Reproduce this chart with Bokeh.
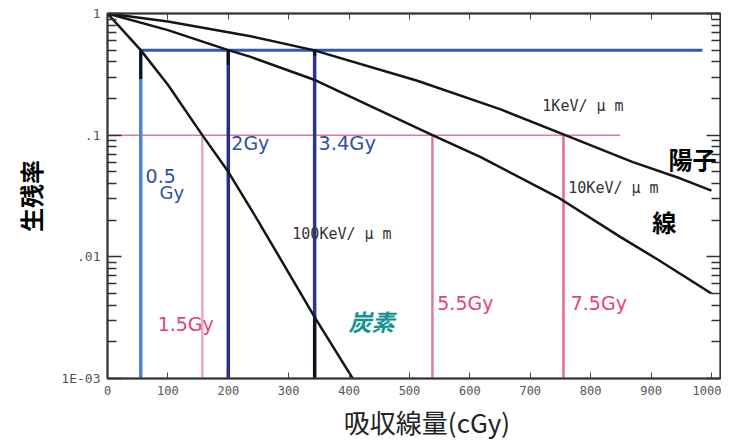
import math
from bokeh.plotting import figure
from bokeh.models import Range1d, LogAxis, LinearAxis, FixedTicker, Label
from bokeh.embed import file_html
from bokeh.resources import INLINE

# ---------------- data ----------------
dose_1kev = [0, 100, 237, 341, 513, 651, 758, 870, 949, 1000]
surv_1kev = [1.0, 0.86, 0.65, 0.5, 0.28, 0.163, 0.1, 0.06, 0.044, 0.035]

dose_10kev = [0, 100, 200, 237, 341, 538, 618, 745, 849, 911, 1000]
surv_10kev = [1.0, 0.73, 0.5, 0.44, 0.287, 0.1, 0.066, 0.031, 0.0146, 0.0095, 0.005]

dose_100kev = [0, 55, 100, 157, 200, 250, 343, 406]
surv_100kev = [1.0, 0.5, 0.26, 0.1, 0.05, 0.0195, 0.0032, 0.001]

# dose reference lines (cGy) and survival levels
blue_doses = [55, 200, 343]          # 0.5Gy, 2Gy, 3.4Gy  (S = 0.5)
blue_colors = ["#4a86d0", "#26307e", "#2a3590"]
blue_level = 0.5
blue_h_end = 985
pink_doses = [157, 538, 755]         # 1.5Gy, 5.5Gy, 7.5Gy (S = 0.1)
pink_colors = ["#eca6bf", "#e27a9c", "#e06a92"]
pink_level = 0.1
pink_h_end = 849

# black marks drawn over the dose lines in the original
black_x = [55, 200, 343, 343]
black_top = [0.5, 0.5, 0.5, 0.0032]
black_bottom = [0.29, 0.38, 0.45, 0.001]

x_ticks = [0, 100, 200, 300, 400, 500, 600, 700, 800, 900, 1000]
y_ticks = [0.001, 0.01, 0.1, 1]
y_tick_labels = ["1E-03", ".01", ".1", "1"]

x_title = "\u3000吸収線量(cGy)"
y_title = "生残率"

x_min, x_max = 0, 1015
y_min, y_max = 0.001, 1

cjk = "Noto Sans CJK JP"

# ---------------- figure ----------------
p = figure(width=721, height=442, x_range=Range1d(x_min, x_max),
           y_range=Range1d(y_min, y_max), y_axis_type="log",
           output_backend="svg", toolbar_location=None,
           min_border_left=107, min_border_right=1, min_border_top=13,
           min_border_bottom=58)
p.xgrid.visible = False
p.ygrid.visible = False
p.outline_line_color = "#333333"
p.outline_line_width = 1.5
p.background_fill_color = "white"
p.border_fill_color = "white"

minor = [m * 10.0 ** d for d in (-3, -2, -1) for m in range(2, 10)]

xa = p.xaxis[0]
xa.ticker = FixedTicker(ticks=x_ticks)
xa.major_tick_in = 6
xa.major_tick_out = 0
xa.minor_tick_line_color = None
xa.axis_line_width = 2
xa.axis_line_color = "#333333"
xa.major_tick_line_color = "#444444"
xa.major_label_text_font = "DejaVu Sans Mono"
xa.major_label_text_font_size = "12px"
xa.major_label_text_color = "#555555"
xa.major_label_standoff = 7
xa.axis_label = x_title
xa.axis_label_text_font = cjk
xa.axis_label_text_font_size = "26px"
xa.axis_label_text_font_style = "normal"
xa.axis_label_text_color = "#222222"
xa.axis_label_standoff = 5

ya = p.yaxis[0]
ya.ticker = FixedTicker(ticks=y_ticks, minor_ticks=minor)
ya.major_label_overrides = {v: s for v, s in zip(y_ticks, y_tick_labels)}
ya.major_tick_in = 14
ya.major_tick_out = 0
ya.minor_tick_in = 9
ya.minor_tick_out = 0
ya.axis_line_width = 2
ya.axis_line_color = "#333333"
ya.major_tick_line_color = "#333333"
ya.minor_tick_line_color = "#333333"
ya.major_tick_line_width = 1.5
ya.minor_tick_line_width = 1.5
ya.major_label_text_font = "DejaVu Sans Mono"
ya.major_label_text_font_size = "13px"
ya.major_label_text_color = "#555555"
ya.major_label_standoff = 7
ya.axis_label = y_title
ya.axis_label_text_font = cjk
ya.axis_label_text_font_size = "24px"
ya.axis_label_text_font_style = "bold"
ya.axis_label_text_color = "#000000"
ya.axis_label_standoff = 10

ra = LogAxis(ticker=FixedTicker(ticks=y_ticks, minor_ticks=minor),
             major_label_text_font_size="1px", major_label_text_color=None,
             major_label_standoff=0,
             major_tick_in=14, major_tick_out=0, minor_tick_in=9, minor_tick_out=0,
             axis_line_width=2, axis_line_color="#333333",
             major_tick_line_color="#333333", minor_tick_line_color="#333333",
             major_tick_line_width=1.5, minor_tick_line_width=1.5)
p.add_layout(ra, "right")

ta = LinearAxis(ticker=FixedTicker(ticks=x_ticks),
                major_label_text_font_size="1px", major_label_text_color=None,
                major_label_standoff=0,
                major_tick_in=6, major_tick_out=0, minor_tick_line_color=None,
                axis_line_width=2, axis_line_color="#333333",
                major_tick_line_color="#444444")
p.add_layout(ta, "above")

# ---------------- reference lines ----------------
p.segment(x0=[blue_doses[0]], y0=[blue_level], x1=[blue_h_end], y1=[blue_level],
          line_color="#2f58b8", line_width=3)
p.segment(x0=[x_min], y0=[pink_level], x1=[pink_h_end], y1=[pink_level],
          line_color="#e27aa0", line_width=1.5)
p.segment(x0=blue_doses, y0=[y_min] * len(blue_doses), x1=blue_doses,
          y1=[blue_level] * len(blue_doses), line_color=blue_colors, line_width=3.5)
p.segment(x0=pink_doses, y0=[y_min] * len(pink_doses), x1=pink_doses,
          y1=[pink_level] * len(pink_doses), line_color=pink_colors, line_width=2.5)
p.segment(x0=black_x, y0=black_bottom, x1=black_x, y1=black_top,
          line_color="#111111", line_width=3)

# ---------------- survival curves ----------------
for xs, ys in ((dose_1kev, surv_1kev), (dose_10kev, surv_10kev), (dose_100kev, surv_100kev)):
    p.line(xs, ys, line_color="#151515", line_width=2.5, line_join="round")

# ---------------- annotations ----------------
def lab(x, y, text, color, size, font="DejaVu Sans", style="normal", align="left", angle=0.0):
    p.add_layout(Label(x=x, y=y, text=text, text_color=color, text_font_size=size,
                       text_font=font, text_font_style=style, text_align=align,
                       text_baseline="middle", angle=angle))

blue_txt = "#2f4fa8"
pink_txt = "#e0457a"
lab(63, 0.0464, "0.5", blue_txt, "19px")
lab(86, 0.034, "Gy", blue_txt, "18px")
lab(205, 0.0857, "2Gy", blue_txt, "19px")
lab(349, 0.0857, "3.4Gy", blue_txt, "19.5px")
lab(83, 0.0028, "1.5Gy", pink_txt, "19px")
lab(546, 0.0042, "5.5Gy", pink_txt, "19px")
lab(767, 0.0042, "7.5Gy", pink_txt, "19px")

mono_c = "#333333"
lab(720, 0.174, "1KeV/ μ m", mono_c, "15px", font="DejaVu Sans Mono")
lab(763, 0.037, "10KeV/ μ m", mono_c, "15px", font="DejaVu Sans Mono")
lab(306, 0.0155, "100KeV/ μ m", mono_c, "15px", font="DejaVu Sans Mono")

lab(929, 0.0648, "陽子", "#000000", "24px", font=cjk, style="bold")
lab(902, 0.0197, "線", "#000000", "24px", font=cjk, style="bold")
lab(399, 0.00295, "炭素", "#13928f", "23px", font=cjk, style="bold italic")

open("out.html", "w").write(file_html(p, INLINE))
